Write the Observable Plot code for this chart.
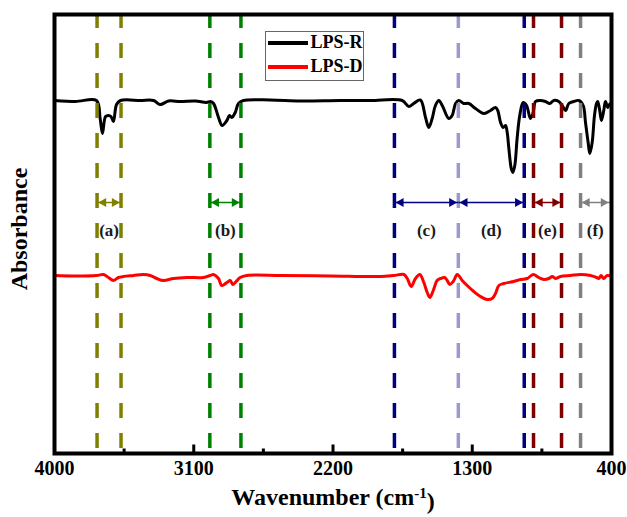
<!DOCTYPE html>
<html><head><meta charset="utf-8">
<script src="https://cdn.jsdelivr.net/npm/d3@7"></script>
<script src="https://cdn.jsdelivr.net/npm/@observablehq/plot@0.6"></script>
<style>
body{margin:0;background:#fff;}
#wrap{position:relative;width:627px;height:517px;}
#legend{position:absolute;left:265px;top:31px;width:99px;height:50px;border:1.5px solid #666;background:#fff;box-sizing:border-box;font-family:"Liberation Serif","Times New Roman",serif;font-weight:bold;font-size:18px;color:#000;}
.row{position:absolute;left:1.5px;height:20px;display:flex;align-items:center;white-space:nowrap;}
.sw{width:40px;height:4px;margin-right:3px;}
</style></head><body>
<div id="wrap"><div id="legend"></div></div>
<script>
// ---- data ----
const seriesNames = ["LPS-R", "LPS-D"];
const seriesColors = ["#000000", "#ff0000"];

const wnR = [4000,3864,3729,3705,3690,3670,3651,3635,3619,3599,3573,3444,3360,3317,3263,3186,3089,3018,2992,2972,2940,2917,2886,2869,2854,2832,2811,2779,2604,2410,2152,1958,1753,1710,1678,1635,1602,1581,1559,1538,1516,1494,1452,1430,1408,1387,1355,1322,1279,1225,1182,1150,1135,1117,1100,1085,1074,1064,1048,1038,1025,1010,993,971,949,924,906,891,859,827,799,773,741,719,697,676,644,611,583,568,551,540,525,510,497,489,476,465,450,439,424,418,407,400];
const absR = [3.53,3.52,3.53,3.35,3.20,3.37,3.38,3.37,3.32,3.49,3.53,3.53,3.53,3.49,3.525,3.52,3.525,3.51,3.52,3.50,3.36,3.28,3.33,3.38,3.36,3.41,3.50,3.53,3.535,3.525,3.53,3.53,3.53,3.47,3.50,3.535,3.36,3.26,3.35,3.48,3.53,3.48,3.35,3.38,3.50,3.53,3.50,3.50,3.45,3.40,3.43,3.46,3.43,3.31,3.26,3.28,3.21,3.06,2.85,2.81,2.88,3.15,3.38,3.51,3.48,3.35,3.41,3.52,3.53,3.52,3.50,3.53,3.52,3.48,3.43,3.50,3.52,3.53,3.48,3.31,3.11,3.00,3.11,3.38,3.50,3.52,3.43,3.33,3.43,3.52,3.46,3.48,3.50,3.50];

const wnD = [4000,3864,3727,3683,3651,3619,3586,3554,3489,3425,3381,3339,3296,3231,3145,3037,2994,2972,2940,2919,2886,2864,2848,2826,2800,2757,2539,2216,1893,1807,1742,1720,1695,1667,1639,1613,1591,1574,1552,1527,1505,1479,1462,1445,1423,1397,1365,1333,1290,1247,1203,1171,1150,1128,1096,1032,988,945,906,870,838,805,783,762,730,665,600,536,497,482,467,450,428,400];
const absD = [1.78,1.775,1.78,1.79,1.76,1.73,1.76,1.77,1.78,1.79,1.78,1.75,1.73,1.75,1.76,1.76,1.78,1.79,1.75,1.68,1.71,1.73,1.69,1.72,1.76,1.78,1.78,1.775,1.77,1.78,1.79,1.75,1.67,1.75,1.79,1.71,1.61,1.56,1.63,1.73,1.75,1.76,1.73,1.69,1.72,1.79,1.73,1.68,1.62,1.57,1.54,1.55,1.60,1.68,1.70,1.72,1.74,1.75,1.79,1.76,1.74,1.75,1.77,1.75,1.77,1.78,1.79,1.78,1.76,1.75,1.78,1.75,1.78,1.77];

const xTicks = [4000, 3100, 2200, 1300, 400];
const minorTicks = [3550, 2650, 1750, 850];

const bandLines = [3725, 3570, 2996, 2795, 1803, 1390, 964, 904, 723, 600];
const bandColors = ["#808000","#808000","#008000","#008000","#000080","#9a9acd","#000080","#800000","#800000","#808080"];

const regionLabels = ["(a)", "(b)", "(c)", "(d)", "(e)", "(f)"];
const regionFrom = [3725, 2996, 1803, 1390, 904, 600];
const regionTo = [3570, 2795, 1390, 964, 723, 410];
const regionColors = ["#808000", "#008000", "#000080", "#000080", "#800000", "#808080"];
const arrowLevel = 2.51;
const labelLevel = 2.23;

// ---- tables ----
const spectra = [
  ...wnR.map((w, i) => ({wn: w, a: absR[i], s: seriesNames[0]})),
  ...wnD.map((w, i) => ({wn: w, a: absD[i], s: seriesNames[1]}))
];
const bands = bandLines.map((w, i) => ({wn: w, c: bandColors[i]}));
const regions = regionLabels.map((l, i) => ({label: l, from: regionFrom[i], to: regionTo[i], c: regionColors[i], mid: (regionFrom[i] + regionTo[i]) / 2}));

const font = "'Liberation Serif','Times New Roman',serif";

const plot = Plot.plot({
  width: 627, height: 517,
  marginLeft: 54, marginRight: 16, marginTop: 14, marginBottom: 64,
  style: {fontFamily: font, background: "#fff", overflow: "visible"},
  x: {domain: [4000, 400], axis: null},
  y: {domain: [0, 4.39], axis: null},
  color: {domain: seriesNames, range: seriesColors},
  marks: [
    Plot.line(spectra, {x: "wn", y: "a", z: "s", stroke: "s", strokeWidth: 3, curve: "catmull-rom"}),
    Plot.ruleX(bands, {x: "wn", stroke: "c", strokeWidth: 3.5, strokeDasharray: "15,15", strokeDashoffset: 1}),
    Plot.link(regions, {x1: "from", x2: "to", y1: () => arrowLevel, y2: () => arrowLevel, stroke: "c", strokeWidth: 1.5}),
    Plot.dot(regions, {x: "from", y: () => arrowLevel, symbol: "triangle", r: 3.4, fill: "c", stroke: "none", rotate: -90, dx: 6.5}),
    Plot.dot(regions, {x: "to", y: () => arrowLevel, symbol: "triangle", r: 3.4, fill: "c", stroke: "none", rotate: 90, dx: -6.5}),
    Plot.text(regions, {x: "mid", y: () => labelLevel, text: "label", fontSize: 17, fontWeight: "bold", fill: "#1a1a1a"}),
    Plot.frame({stroke: "#000", strokeWidth: 4}),
    Plot.ruleX(xTicks.slice(1, -1), {x: d => d, y1: 0, y2: 0.085, stroke: "#000", strokeWidth: 3}),
    Plot.ruleX(minorTicks, {x: d => d, y1: 0, y2: 0.045, stroke: "#000", strokeWidth: 3}),
    Plot.axisX(xTicks, {tickSize: 0, tickPadding: 7, fontSize: 20, fontWeight: "bold", label: null, tickFormat: d => String(d)}),
    Plot.text(["Wavenumber (cm-1)"], {frameAnchor: "bottom", dy: 51, fontSize: 24, fontWeight: "bold", fill: "#000"}),
    Plot.text(["Absorbance"], {frameAnchor: "left", textAnchor: "middle", dx: -35, dy: -5, rotate: -90, fontSize: 24, fontWeight: "bold", fill: "#000"})
  ]
});

// superscript for the x title
d3.select(plot).selectAll("text").filter(function () { return this.textContent === "Wavenumber (cm-1)"; })
  .each(function () {
    const t = d3.select(this);
    t.text("");
    t.append("tspan").text("Wavenumber (cm");
    t.append("tspan").attr("dy", "-0.45em").attr("font-size", "15").text("-1");
    t.append("tspan").attr("dy", "0.45em").text(")");
  });

document.getElementById("wrap").prepend(plot);

// legend
const lg = document.getElementById("legend");
seriesNames.forEach((n, i) => {
  const row = document.createElement("div");
  row.className = "row";
  row.style.top = (i === 0 ? 0.5 : 24.5) + "px";
  row.innerHTML = `<span class="sw" style="background:${seriesColors[i]}"></span><span>${n}</span>`;
  lg.appendChild(row);
});
</script>
</body></html>
